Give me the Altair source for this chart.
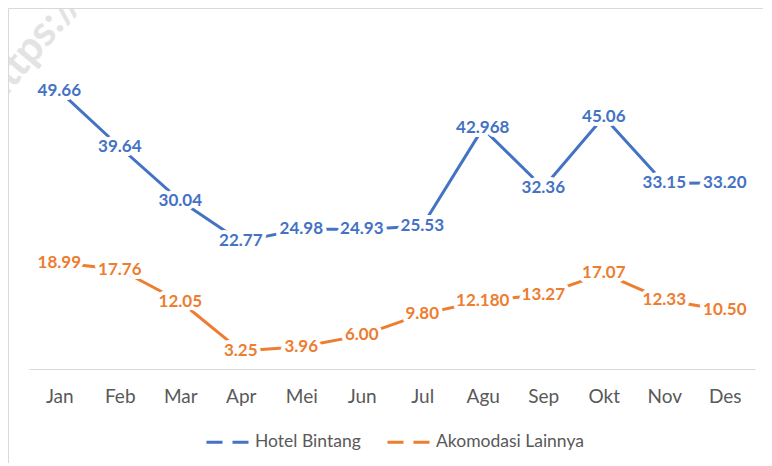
import altair as alt
import pandas as pd

months = ["Jan", "Feb", "Mar", "Apr", "Mei", "Jun", "Jul", "Agu", "Sep", "Okt", "Nov", "Des"]
hotel = [49.66, 39.64, 30.04, 22.77, 24.98, 24.93, 25.53, 42.968, 32.36, 45.06, 33.15, 33.20]
hotel_labels = ["49.66", "39.64", "30.04", "22.77", "24.98", "24.93", "25.53", "42.968", "32.36", "45.06", "33.15", "33.20"]
other = [18.99, 17.76, 12.05, 3.25, 3.96, 6.00, 9.80, 12.180, 13.27, 17.07, 12.33, 10.50]
other_labels = ["18.99", "17.76", "12.05", "3.25", "3.96", "6.00", "9.80", "12.180", "13.27", "17.07", "12.33", "10.50"]
series = ["Hotel Bintang", "Akomodasi Lainnya"]
colors = ["#4472C4", "#ED7D31"]

rows = []
for m, v, l in zip(months, hotel, hotel_labels):
    rows.append({"month": m, "value": v, "label": l, "series": series[0], "lc": colors[0]})
for m, v, l in zip(months, other, other_labels):
    rows.append({"month": m, "value": v, "label": l, "series": series[1], "lc": colors[1]})
df = pd.DataFrame(rows)

x = alt.X("month:N", sort=months, title=None,
          axis=alt.Axis(labelAngle=0, ticks=False, tickSize=0, labelPadding=18,
                        domainColor="#D9D9D9", domainWidth=1.2,
                        labelFont="Lato", labelFontSize=19, labelColor="#595959"))
y = alt.Y("value:Q", scale=alt.Scale(domain=[0, 60], nice=False, zero=True), axis=None)

base = alt.Chart(df)

lines = base.mark_line(strokeWidth=3, strokeJoin="round").encode(
    x=x, y=y,
    color=alt.Color("series:N", sort=series,
                    scale=alt.Scale(domain=series, range=colors),
                    legend=alt.Legend(title=None, orient="none", legendX=176, legendY=386,
                                      direction="horizontal", symbolType="stroke",
                                      symbolSize=1849, symbolStrokeWidth=3,
                                      symbolDash=[16, 10], labelFont="Lato",
                                      labelFontSize=17.5, labelColor="#595959",
                                      labelOffset=4, columnPadding=20)),
    detail="series:N",
)

halo = base.mark_text(font="Lato", fontSize=17, fontWeight="bold", fill="white",
                      stroke="white", strokeWidth=8, strokeJoin="round",
                      baseline="middle", align="center").encode(
    x=x, y=y, text="label:N")

labels = base.mark_text(font="Lato", fontSize=17, fontWeight="bold",
                        baseline="middle", align="center").encode(
    x=x, y=y, text="label:N", color=alt.Color("lc:N", scale=None))

wm = alt.Chart(pd.DataFrame({"t": ["https://"]})).mark_text(
    font="Lato", fontSize=42, fontWeight="bold", color="#E3E3E3", angle=310,
    align="center", baseline="middle").encode(
    text="t:N", x=alt.value(2), y=alt.value(14))

frame = pd.DataFrame({"a": [0]})
left_border = alt.Chart(frame).mark_rule(color="#D9D9D9", strokeWidth=1).encode(
    x=alt.value(-20.5), y=alt.value(-24.5), y2=alt.value(440))
top_border = alt.Chart(frame).mark_rule(color="#D9D9D9", strokeWidth=1).encode(
    x=alt.value(-20.5), x2=alt.value(740), y=alt.value(-24.5))

chart = alt.layer(wm, left_border, top_border, lines, halo, labels).properties(
    width=726, height=336,
    autosize=alt.AutoSizeParams(type="none"),
    padding={"left": 21, "top": 25, "right": 8, "bottom": 94},
).configure(background="white").configure_view(stroke=None)

chart.save("out.html", embed_options={"renderer": "svg", "actions": False})
